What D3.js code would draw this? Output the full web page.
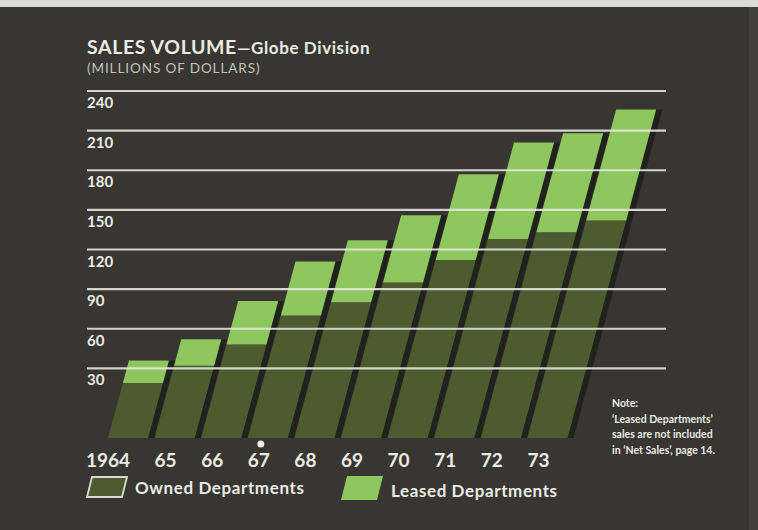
<!DOCTYPE html>
<html>
<head>
<meta charset="utf-8">
<script src="https://cdn.jsdelivr.net/npm/d3@7"></script>
<style>
  body { margin: 0; background: #373632; }
  svg { display: block; }
  text { font-family: Lato, "Open Sans", sans-serif; fill: #ecebe4; }
</style>
</head>
<body>
<div class="chart"></div>
<script>
// sales volume, millions of dollars
const years = ["1964", "65", "66", "67", "68", "69", "70", "71", "72", "73"];
const owned = [19, 32, 48, 70, 80, 95, 112, 128, 133, 142];
const leased = [17, 20, 33, 41, 47, 51, 65, 73, 75, 84];
const yTicks = [30, 60, 90, 120, 150, 180, 210, 240];
const noteLines = ["Note:", "\u2018Leased Departments\u2019", "sales are not included", "in \u2018Net Sales\u2019, page 14."];

const width = 758, height = 530;
const gridLeft = 87, gridRight = 666;
const base = 438;      // bars stand a little in front of the zero line
const slant = 0.27;    // horizontal lean per pixel of height

let svg = d3.select(".chart").append("svg")
    .attr("width", width)
    .attr("height", height);

svg.append("rect").attr("width", width).attr("height", height).attr("fill", "#373632");
svg.append("rect").attr("width", width).attr("height", 7).attr("fill", "#dcdcd6");
svg.append("rect").attr("x", 749).attr("y", 7).attr("width", 9).attr("height", height).attr("fill", "#42413d");

let yScale = d3.scaleLinear()
    .domain([0, 240])
    .range([408, 91]);

let xScale = d3.scaleBand()
    .domain(years)
    .range([108, 567.5])
    .paddingInner(0.14)
    .paddingOuter(0);

let data = years.map((y, i) => ({year: y, owned: owned[i], total: owned[i] + leased[i]}));

// parallelogram from pixel y0 (bottom) to y1 (top)
function shape(d, y0, y1, dx) {
    let x = xScale(d.year) + (dx || 0), w = xScale.bandwidth();
    let s0 = slant * (base - y0), s1 = slant * (base - y1);
    return `M${x + s0},${y0}L${x + w + s0},${y0}L${x + w + s1},${y1}L${x + s1},${y1}Z`;
}

let bars = svg.append("g");
bars.selectAll(".shadow")
    .data(data)
    .enter()
    .append("path")
    .attr("class", "shadow")
    .attr("d", d => shape(d, base, yScale(d.total), 6))
    .attr("fill", "#21211e");

bars.selectAll(".owned")
    .data(data)
    .enter()
    .append("path")
    .attr("class", "owned")
    .attr("d", d => shape(d, base, yScale(d.owned)))
    .attr("fill", "#4c5c2f");

bars.selectAll(".leased")
    .data(data)
    .enter()
    .append("path")
    .attr("class", "leased")
    .attr("d", d => shape(d, yScale(d.owned), yScale(d.total)))
    .attr("fill", "#8dc75e");

// grid lines drawn over the bars
let grid = svg.append("g");
grid.selectAll("line")
    .data(yTicks)
    .enter()
    .append("line")
    .attr("x1", gridLeft)
    .attr("x2", gridRight)
    .attr("y1", d => yScale(d))
    .attr("y2", d => yScale(d))
    .attr("stroke", "#e6e5de")
    .attr("stroke-width", 2.2)
    .attr("opacity", 0.9);

grid.selectAll("text")
    .data(yTicks)
    .enter()
    .append("text")
    .attr("x", gridLeft)
    .attr("y", d => yScale(d) + 17)
    .attr("font-size", 15)
    .attr("font-weight", "bold")
    .text(d => d);

svg.selectAll(".year")
    .data(years)
    .enter()
    .append("text")
    .attr("class", "year")
    .attr("x", d => xScale(d) + 22)
    .attr("y", 467)
    .attr("text-anchor", "end")
    .attr("font-size", 19)
    .attr("font-weight", "bold")
    .text(d => d);

// small white dot above the 67
svg.append("circle")
    .attr("cx", xScale("67") + 13)
    .attr("cy", 444)
    .attr("r", 3.5)
    .attr("fill", "#f0efe8");

// title
let title = svg.append("text").attr("x", gridLeft).attr("y", 54).attr("font-weight", "bold")
    .attr("letter-spacing", 0.6);
title.append("tspan").attr("font-size", 19.5).text("SALES VOLUME");
title.append("tspan").attr("font-size", 17).text("\u2014Globe Division");

svg.append("text")
    .attr("x", gridLeft)
    .attr("y", 73)
    .attr("font-size", 13.5)
    .attr("letter-spacing", 0.9)
    .style("fill", "#c4c3bb")
    .text("(MILLIONS OF DOLLARS)");

// legend
let legend = svg.append("g");
legend.append("path")
    .attr("d", "M92,477L127,477L122,497L87,497Z")
    .attr("fill", "#4c5c2f")
    .attr("stroke", "#dcdbd2")
    .attr("stroke-width", 1.8);
legend.append("text")
    .attr("x", 135)
    .attr("y", 494)
    .attr("font-size", 17)
    .attr("letter-spacing", 0.6)
    .attr("font-weight", "bold")
    .text("Owned Departments");
legend.append("path")
    .attr("d", "M347,476L383,476L377,500L341,500Z")
    .attr("fill", "#8dc75e");
legend.append("text")
    .attr("x", 391)
    .attr("y", 497)
    .attr("font-size", 17)
    .attr("letter-spacing", 0.6)
    .attr("font-weight", "bold")
    .text("Leased Departments");

svg.append("g").selectAll("text")
    .data(noteLines)
    .enter()
    .append("text")
    .attr("x", 612)
    .attr("y", (d, i) => 407 + i * 15.5)
    .attr("font-size", 10.5)
    .attr("font-weight", "bold")
    .text(d => d);
</script>
</body>
</html>
